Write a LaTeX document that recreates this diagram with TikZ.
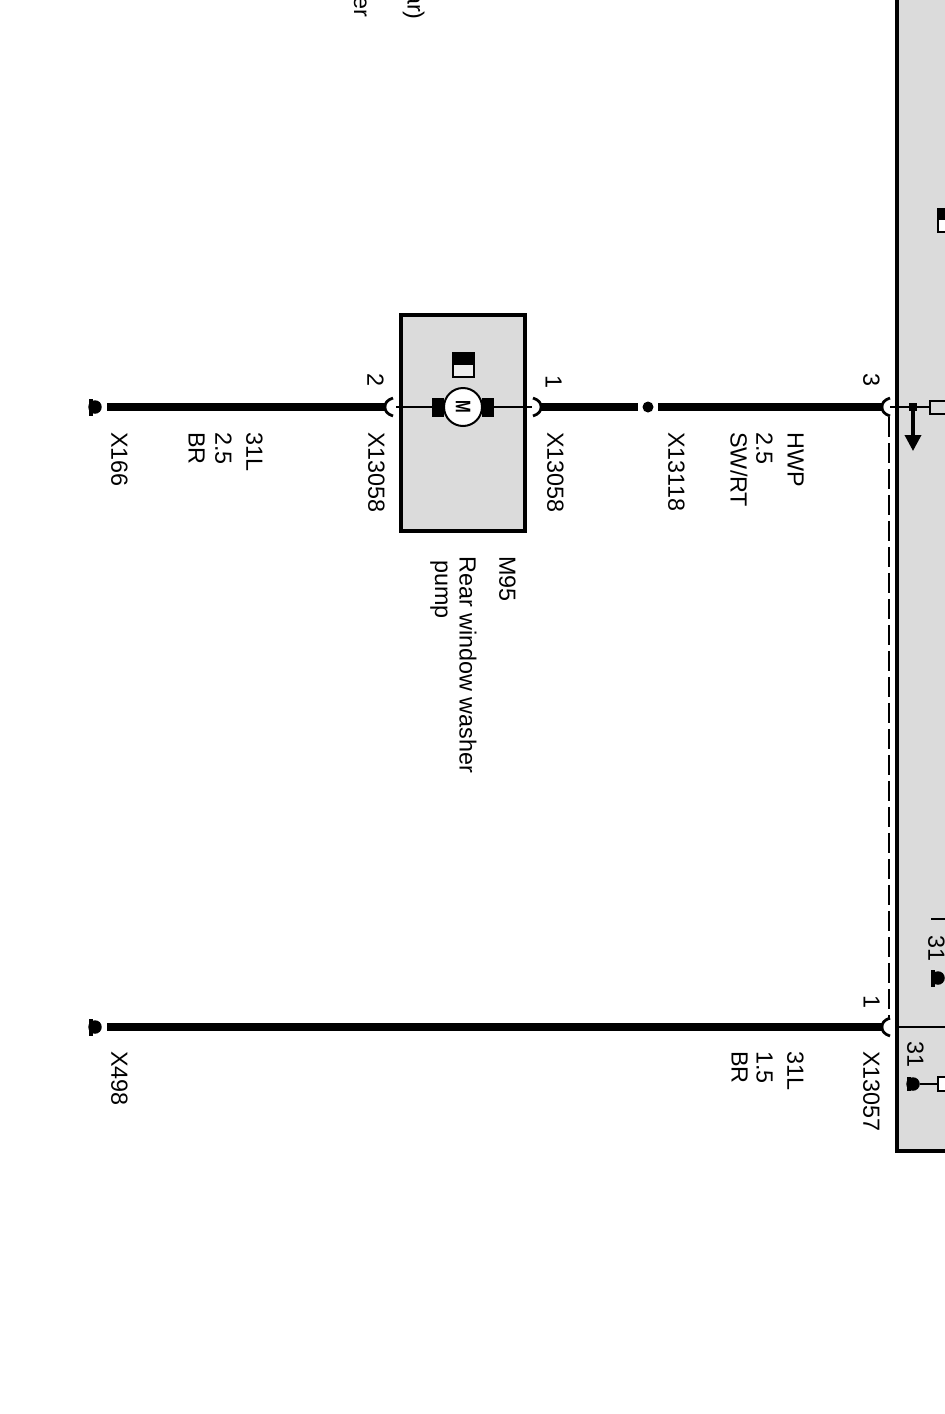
\documentclass[tikz,border=0pt]{standalone}
\usepackage{graphicx}
\usepackage{fontspec}
\setmainfont{Liberation Sans}
\usetikzlibrary{arrows.meta}
\definecolor{panelgray}{gray}{0.86}

\begin{document}
\begin{tikzpicture}[
      x=0.02cm, y=-0.02cm,
      lbl/.style={rotate=-90,anchor=north west,inner sep=0pt,font=\fontsize{13.3}{16}\selectfont},
      wire/.style={line width=0.17cm},
      thinwire/.style={line width=0.04cm},
      pin/.style={line width=0.055cm},
      frame/.style={draw,fill=panelgray,line width=0.09cm},
      block/.style={fill=black,inner sep=0pt,minimum width=0.24cm,minimum height=0.38cm},
      stub/.style={draw,fill=white,inner sep=0pt,line width=0.04cm},
      gndbar/.style={fill=black,inner sep=0pt,minimum width=0.08cm,minimum height=0.34cm},
      gnddisc/.style={circle,fill=black,inner sep=0pt,minimum size=0.27cm}
    ]
    \clip (0,0) rectangle (945,1414);
    % housings
    \path[frame] (897,-20) rectangle (980,1151);
    \path[frame] (401,315) rectangle (525,531);
    \coordinate (divl) at (897,1027);
    \coordinate (divr) at (945,1027);
    \draw[thinwire] (divl) -- (divr);
    % wire ends
    \node[gndbar] (gnda) at (91,407) {};
    \node[gnddisc] (gnda2) at (95,407) {};
    \node[gndbar] (gndb) at (91,1027) {};
    \node[gnddisc] (gndb2) at (95,1027) {};
    \coordinate (starta) at (107,407);
    \coordinate (startb) at (107,1027);
    \coordinate (pinmb) at (385,407);
    \coordinate (pinma) at (541,407);
    \coordinate (pinc) at (882,407);
    \coordinate (pind) at (882,1027);
    \node[circle,fill=black,inner sep=0pt,minimum size=0.22cm] (splice) at (648,407) {};
    \coordinate (cutl) at (638,407);
    \coordinate (cutr) at (658,407);
    \draw[wire] (starta) -- (pinmb);
    \draw[wire] (startb) -- (pind);
    \draw[wire] (pinma) -- (cutl);
    \draw[wire] (cutr) -- (pinc);
    % pins
    \draw[pin] (393,398) .. controls (387,400) and (385,403) .. (pinmb) .. controls (385,411) and (387,414) .. (393,416);
    \draw[pin] (533,398) .. controls (539,400) and (541,403) .. (pinma) .. controls (541,411) and (539,414) .. (533,416);
    \draw[pin] (890,398) .. controls (884,400) and (882,403) .. (pinc) .. controls (882,411) and (884,414) .. (890,416);
    \draw[pin] (890,1018) .. controls (884,1020) and (882,1023) .. (pind) .. controls (882,1031) and (884,1034) .. (890,1036);
    % pump
    \node[block] (brushl) at (438,407) {};
    \node[block] (brushr) at (488,407) {};
    \node[circle,draw,fill=white,line width=0.04cm,inner sep=0pt,minimum size=0.76cm] (motor) at (463,407) {};
    \node[rotate=-90,inner sep=0pt,font=\fontsize{12}{14}\selectfont\bfseries] (motorm) at (motor.center) {\scalebox{0.72}[1]{M}};
    \coordinate (innerl) at (396,407);
    \coordinate (innerr) at (532,407);
    \draw[thinwire] (innerl) -- (brushl);
    \draw[thinwire] (brushr) -- (innerr);
    \node[stub,minimum width=0.42cm,minimum height=0.48cm,fill=panelgray!50!white] (flagm) at (463,365) {};
    \fill (flagm.north west) rectangle (flagm.east);
    % panel side
    \node[stub,minimum width=0.7cm,minimum height=0.26cm,anchor=west,fill=panelgray] (stubc) at (929,407) {};
    \coordinate (pinci) at (890,407);
    \coordinate (dropc) at (913,407);
    \coordinate (dropt) at (913,451);
    \draw[thinwire] (pinci) -- (stubc);
    \node[fill=black,inner sep=0pt,minimum size=0.16cm] (dropb) at (dropc) {};
    \draw[line width=0.07cm,-{Triangle[length=0.32cm,width=0.32cm]}] (dropb) -- (dropt);
    \coordinate (shielda) at (889,417);
    \coordinate (shieldb) at (889,1020);
    \draw[thinwire,dash pattern=on 0.4cm off 0.12cm] (shielda) -- (shieldb);
    % panel fragments
    \node[stub,minimum width=0.3cm,minimum height=0.46cm,anchor=west] (flagp) at (937,220) {};
    \fill (flagp.north west) rectangle (flagp.east);
    \coordinate (taba) at (931,919);
    \coordinate (tabb) at (945,919);
    \draw[thinwire] (taba) -- (tabb);
    \node[gndbar] (gndc) at (933,978) {};
    \node[gnddisc] (gndc2) at (938,978) {};
    \node[stub,minimum width=0.3cm,minimum height=0.28cm,anchor=west] (stubg) at (937,1084) {};
    \node[gndbar,minimum height=0.28cm] (gndd) at (909,1084) {};
    \node[gnddisc] (gndd2) at (913,1084) {};
    \draw[thinwire] (gndd2) -- (stubg);
    % labels
    \node[lbl] (pinlb) at (384,373) {2};
    \node[lbl] (pinla) at (562,375) {1};
    \node[lbl] (pinlc) at (880,373) {3};
    \node[lbl] (pinld) at (880,995) {1};
    \node[lbl] (xa) at (128,432) {X166};
    \node[lbl] (xb) at (263,432) {31L};
    \node[lbl] (xc) at (232,432) {2.5};
    \node[lbl] (xd) at (205,432) {BR};
    \node[lbl] (xe) at (385,432) {X13058};
    \node[lbl] (xf) at (564,432) {X13058};
    \node[lbl] (xg) at (685,432) {X13118};
    \node[lbl] (xh) at (804,432) {HWP};
    \node[lbl] (xi) at (773,432) {2.5};
    \node[lbl] (xj) at (748,432) {SW/RT};
    \node[lbl] (ya) at (128,1051) {X498};
    \node[lbl] (yb) at (804,1051) {31L};
    \node[lbl] (yc) at (773,1051) {1.5};
    \node[lbl] (yd) at (748,1051) {BR};
    \node[lbl] (ye) at (880,1051) {X13057};
    \node[lbl] (ma) at (516,556) {M95};
    \node[lbl] (mb) at (477,556) {Rear window washer};
    \node[lbl] (mc) at (448,560) {pump};
    \node[lbl] (pa) at (945,935) {31};
    \node[lbl] (pb) at (924,1041) {31};
    \node[lbl,anchor=north east] (cuta) at (425,20) {ar)};
    \node[lbl,anchor=north east] (cutb) at (367,18) {er};
  \end{tikzpicture}
\end{document}
